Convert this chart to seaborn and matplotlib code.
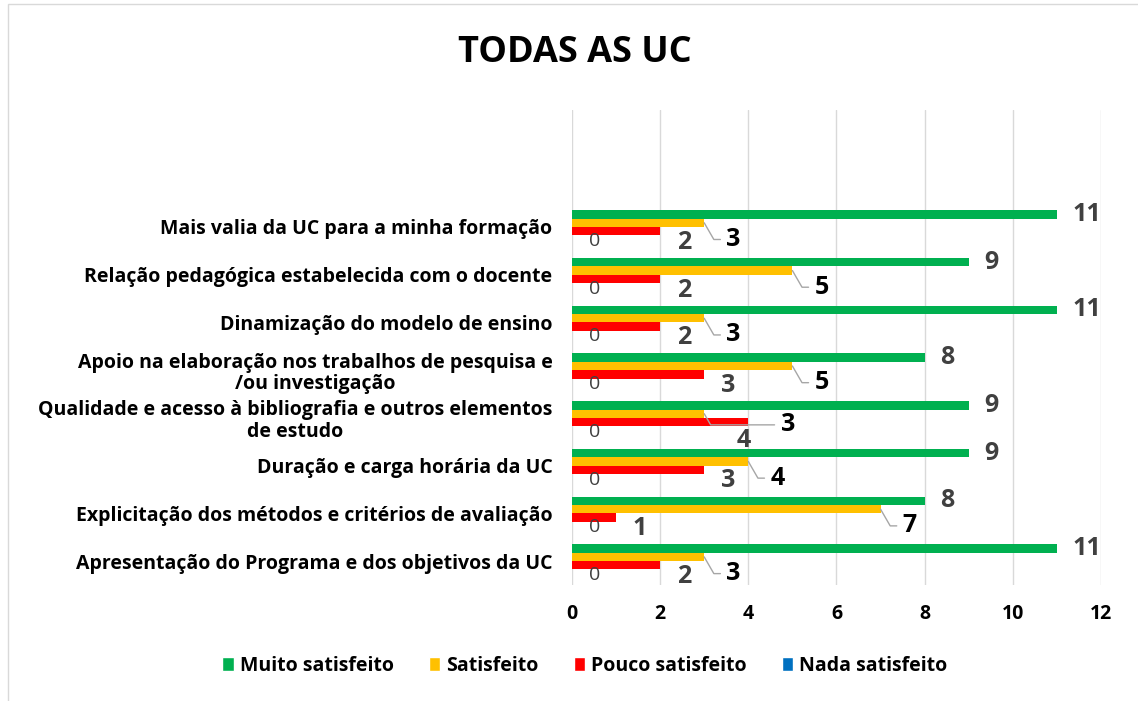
import matplotlib
matplotlib.use("Agg")
import matplotlib.pyplot as plt
from matplotlib.patches import Patch, Rectangle
import seaborn as sns
import pandas as pd

# categories, top to bottom as drawn
items = [
    "Mais valia da UC para a minha formação",
    "Relação pedagógica estabelecida com o docente",
    "Dinamização do modelo de ensino",
    "Apoio na elaboração nos trabalhos de pesquisa e\n/ou investigação",
    "Qualidade e acesso à bibliografia e outros elementos\nde estudo",
    "Duração e carga horária da UC",
    "Explicitação dos métodos e critérios de avaliação",
    "Apresentação do Programa e dos objetivos da UC",
]
levels = ["Muito satisfeito", "Satisfeito", "Pouco satisfeito", "Nada satisfeito"]
muito = [11, 9, 11, 8, 9, 9, 8, 11]
satisfeito = [3, 5, 3, 5, 3, 4, 7, 3]
pouco = [2, 2, 2, 3, 4, 3, 1, 2]
nada = [0, 0, 0, 0, 0, 0, 0, 0]
colors = ["#00b050", "#ffc000", "#ff0000", "#0070c0"]
x_ticks = [0, 2, 4, 6, 8, 10, 12]

rows = []
for lvl, vals in zip(levels, [muito, satisfeito, pouco, nada]):
    for it, v in zip(items, vals):
        rows.append({"item": it, "level": lvl, "value": v})
df = pd.DataFrame(rows)

sns.set_style("white")
plt.rcParams["font.family"] = ["Open Sans", "DejaVu Sans"]
plt.rcParams["text.color"] = "black"
plt.rcParams["xtick.color"] = "black"
plt.rcParams["ytick.color"] = "black"

fig = plt.figure(figsize=(11.38, 7.01), dpi=100)
ax = fig.add_axes([0.5026, 0.1655, 0.9675 - 0.5026, 0.843 - 0.1655])

sns.barplot(data=df, y="item", x="value", hue="level", order=items,
            hue_order=levels, palette=colors, saturation=1, orient="h",
            width=0.7, linewidth=0, ax=ax, legend=False)

ax.set_xlim(0, 12)
ax.set_ylim(7.5, -2.45)
ax.set_xticks(x_ticks)
ax.set_xticklabels([str(t) for t in x_ticks], fontsize=14, fontweight="bold")
ax.tick_params(axis="x", length=0, pad=14)
ax.tick_params(axis="y", length=0, pad=14)
for lab in ax.get_yticklabels():
    lab.set_fontsize(14)
    lab.set_fontweight("bold")
    lab.set_multialignment("center")
    lab.set_linespacing(1.1)
ax.set_xlabel("")
ax.set_ylabel("")
ax.grid(axis="x", color="#d9d9d9", linewidth=1)
ax.set_axisbelow(True)
for s in ax.spines.values():
    s.set_visible(False)

gray = "#404040"
leader = dict(arrowstyle="-", color="#a6a6a6", lw=1, shrinkA=2, shrinkB=0,
              relpos=(0, 0.5), connectionstyle="angle,angleA=0,angleB=-60")
# data labels
for i, cont in enumerate(ax.containers):
    for j, bar in enumerate(cont):
        w = bar.get_width()
        yc = bar.get_y() + bar.get_height() / 2
        crowded = pouco[j] > satisfeito[j]
        if i == 0:
            ax.annotate(f"{w:g}", (w, yc), xytext=(11, 0), textcoords="offset points",
                        ha="left", va="center", fontsize=18, fontweight="bold", color=gray)
        elif i == 1:
            # push the label clear when the red bar below is longer
            dx, dy = (55, -8) if crowded else (16, -12)
            ax.annotate(f"{w:g}", (w, yc), xytext=(dx, dy), textcoords="offset points",
                        ha="left", va="center", fontsize=18, fontweight="bold",
                        color="black", arrowprops=leader)
        elif i == 2:
            dx, dy = (-3, -13) if crowded else (17, -8)
            ax.annotate(f"{w:g}", (w, yc), xytext=(dx, dy), textcoords="offset points",
                        ha="center", va="center", fontsize=18, fontweight="bold", color=gray)
        else:
            ax.annotate(f"{w:g}", (w, yc), xytext=(16, -1), textcoords="offset points",
                        ha="center", va="center", fontsize=14, color=gray)

fig.text(0.505, 0.925, "TODAS AS UC", ha="center", va="center",
         fontsize=26, fontweight="bold", color="black")

handles = [Patch(facecolor=c, label=l) for c, l in zip(colors, levels)]
leg = fig.legend(handles=handles, loc="center", bbox_to_anchor=(0.514, 0.05),
                 ncol=4, frameon=False, handlelength=0.6, handleheight=0.7,
                 handletextpad=0.3, columnspacing=1.8,
                 prop={"size": 14, "weight": "bold"})

fig.patches.append(Rectangle((8 / 1138, -0.02), 1.2, 1 - 4 / 701 + 0.02,
                             transform=fig.transFigure, fill=False,
                             edgecolor="#d9d9d9", linewidth=1))

fig.savefig("out.png", dpi=100)
